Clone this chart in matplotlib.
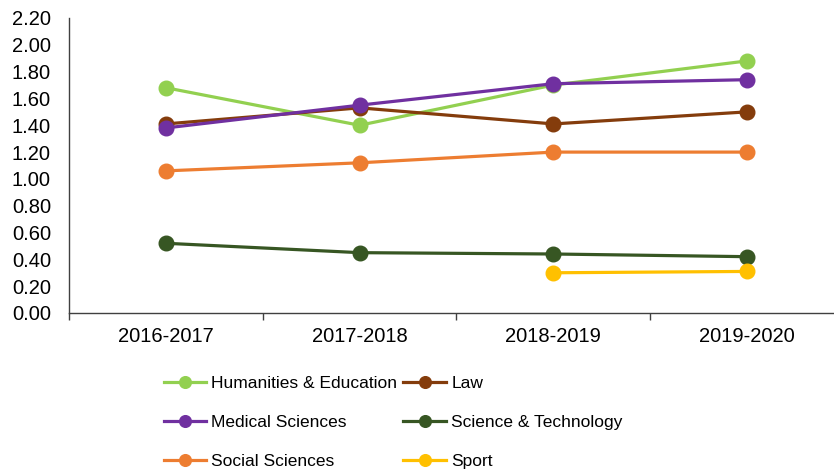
import numpy as np
import matplotlib.pyplot as plt

plt.rcParams['font.family'] = ['Liberation Sans', 'DejaVu Sans']

years = ['2016-2017', '2017-2018', '2018-2019', '2019-2020']
humanities = [1.68, 1.40, 1.70, 1.88]
law = [1.41, 1.53, 1.41, 1.50]
medical = [1.38, 1.55, 1.71, 1.74]
science_tech = [0.52, 0.45, 0.44, 0.42]
social = [1.06, 1.12, 1.20, 1.20]
sport = [np.nan, np.nan, 0.30, 0.31]

series = [
    ('Humanities & Education', humanities, '#92D050'),
    ('Law', law, '#843C0C'),
    ('Medical Sciences', medical, '#7030A0'),
    ('Science & Technology', science_tech, '#375623'),
    ('Social Sciences', social, '#ED7D31'),
    ('Sport', sport, '#FFC000'),
]


def plot_graph():
    fig = plt.figure(figsize=(8.34, 4.72), dpi=100)
    ax = fig.add_axes([69 / 834, 1 - 313 / 472, 775 / 834, 295 / 472])
    x = np.arange(len(years))

    handles = {}
    for name, vals, color in series:
        h, = ax.plot(x, vals, color=color, lw=2.3, marker='o', markersize=10.5,
                     label=name)
        handles[name] = h

    ax.set_ylim(0, 2.2)
    ax.set_yticks(np.arange(0, 2.21, 0.2))
    ax.set_yticklabels([f'{v:.2f}' for v in np.arange(0, 2.21, 0.2)])
    ax.set_xlim(-0.5, 3.5)
    ax.set_xticks(x)
    ax.set_xticklabels(years)
    ax.set_xticks(np.arange(-0.5, 3.6, 1), minor=True)
    ax.tick_params(axis='x', which='major', length=0, pad=10, labelsize=14.5)
    ax.tick_params(axis='x', which='minor', length=5, width=1, color='#404040')
    ax.tick_params(axis='y', length=0, pad=13, labelsize=14.5)
    for side in ['top', 'right']:
        ax.spines[side].set_visible(False)
    for side in ['left', 'bottom']:
        ax.spines[side].set_color('#404040')
        ax.spines[side].set_linewidth(1)

    order = ['Humanities & Education', 'Medical Sciences', 'Social Sciences',
             'Law', 'Science & Technology', 'Sport']
    fig.legend([handles[n] for n in order], order, ncol=2, frameon=False,
               loc='upper left', bbox_to_anchor=(148 / 834, 1 - 360 / 472),
               fontsize=12.5, handlelength=2.45, labelspacing=1.38,
               columnspacing=0.35, handletextpad=0.3, markerscale=0.8)

    fig.savefig('out.png', dpi=100)


if __name__ == '__main__':
    plot_graph()
